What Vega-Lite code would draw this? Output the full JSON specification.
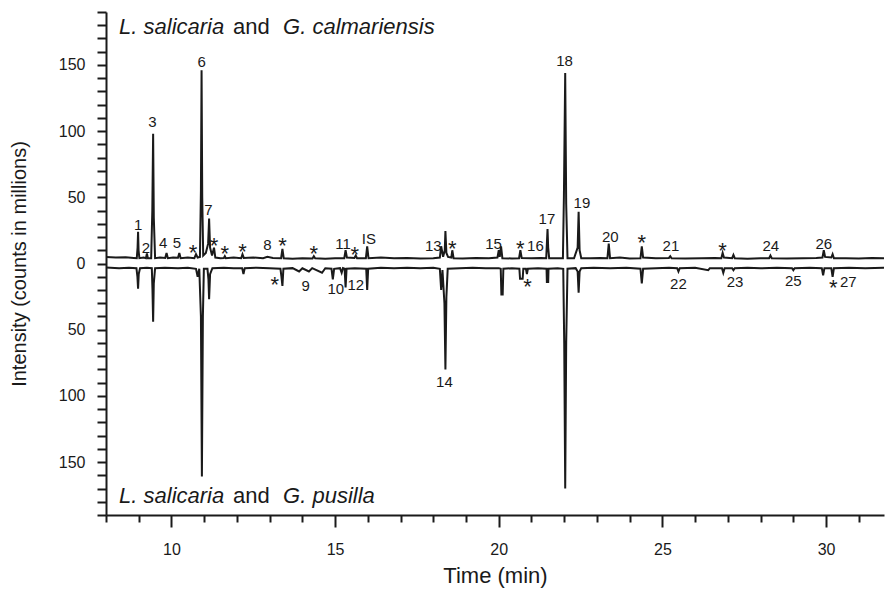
{
  "$schema": "https://vega.github.io/schema/vega-lite/v6.json",
  "width": 778,
  "height": 503,
  "autosize": {"type": "none"},
  "padding": {"left": 106, "top": 12, "right": 1, "bottom": 78},
  "config": {"view": {"stroke": null}, "font": "Liberation Sans"},
  "datasets": {
    "top": [
      {"t":8.0,"v":5},{"t":8.3,"v":4.5},{"t":8.6,"v":4.8},{"t":8.85,"v":4.2},{"t":8.94,"v":4},{"t":8.965,"v":12},{"t":8.98,"v":24},{"t":8.995,"v":10},{"t":9.02,"v":4},
      {"t":9.15,"v":4.5},{"t":9.22,"v":4},{"t":9.25,"v":7.5},{"t":9.28,"v":4},{"t":9.38,"v":4},{"t":9.415,"v":40},{"t":9.44,"v":98},{"t":9.46,"v":35},{"t":9.5,"v":4},
      {"t":9.65,"v":4.5},{"t":9.81,"v":4.2},{"t":9.85,"v":8},{"t":9.89,"v":4},{"t":10.05,"v":4.5},{"t":10.2,"v":4.3},{"t":10.24,"v":8},{"t":10.28,"v":4},
      {"t":10.5,"v":4.5},{"t":10.7,"v":4},{"t":10.75,"v":7},{"t":10.8,"v":4.5},{"t":10.87,"v":5},{"t":10.9,"v":55},{"t":10.92,"v":146},{"t":10.94,"v":50},{"t":10.97,"v":6},
      {"t":11.05,"v":8},{"t":11.12,"v":15},{"t":11.15,"v":34},{"t":11.18,"v":12},{"t":11.24,"v":6},{"t":11.3,"v":12},{"t":11.34,"v":4.5},{"t":11.5,"v":4},
      {"t":11.6,"v":4.2},{"t":11.63,"v":5.5},{"t":11.66,"v":4},{"t":11.9,"v":4.5},{"t":12.13,"v":4},{"t":12.17,"v":7},{"t":12.21,"v":4.2},{"t":12.5,"v":4.5},
      {"t":12.8,"v":4},{"t":12.93,"v":5},{"t":13.1,"v":4.2},{"t":13.35,"v":4},{"t":13.39,"v":11},{"t":13.43,"v":4},{"t":13.7,"v":3.5},{"t":14.0,"v":4},
      {"t":14.31,"v":3.8},{"t":14.35,"v":5.5},{"t":14.39,"v":4},{"t":14.7,"v":3.6},{"t":15.0,"v":4},{"t":15.28,"v":4},{"t":15.32,"v":10},{"t":15.36,"v":4.5},
      {"t":15.59,"v":4.2},{"t":15.63,"v":6},{"t":15.67,"v":4},{"t":15.94,"v":4},{"t":15.98,"v":13},{"t":16.02,"v":4},{"t":16.4,"v":4.5},{"t":16.8,"v":4},
      {"t":17.2,"v":4.2},{"t":17.6,"v":3.8},{"t":18.0,"v":4},{"t":18.2,"v":4.5},{"t":18.24,"v":13},{"t":18.3,"v":5},{"t":18.35,"v":10},{"t":18.37,"v":24.5},
      {"t":18.4,"v":8},{"t":18.45,"v":5},{"t":18.55,"v":4.5},{"t":18.58,"v":10},{"t":18.62,"v":4},{"t":18.9,"v":3.8},{"t":19.3,"v":4.2},{"t":19.7,"v":4},
      {"t":19.96,"v":4.5},{"t":20.0,"v":10},{"t":20.03,"v":5},{"t":20.07,"v":13},{"t":20.11,"v":4},{"t":20.4,"v":3.8},{"t":20.62,"v":4},{"t":20.66,"v":10},
      {"t":20.7,"v":4.2},{"t":21.0,"v":4},{"t":21.3,"v":4.2},{"t":21.45,"v":4},{"t":21.47,"v":15},{"t":21.49,"v":26},{"t":21.51,"v":12},{"t":21.54,"v":4},
      {"t":21.8,"v":4},{"t":21.96,"v":4},{"t":21.99,"v":50},{"t":22.03,"v":144},{"t":22.06,"v":45},{"t":22.1,"v":4},{"t":22.3,"v":4},{"t":22.41,"v":12},
      {"t":22.44,"v":39},{"t":22.47,"v":10},{"t":22.52,"v":4},{"t":22.8,"v":4},{"t":23.1,"v":4.2},{"t":23.32,"v":4},{"t":23.36,"v":15},{"t":23.4,"v":4},
      {"t":23.7,"v":4.5},{"t":24.0,"v":3.8},{"t":24.33,"v":4},{"t":24.37,"v":13},{"t":24.41,"v":4.5},{"t":24.8,"v":4},{"t":25.2,"v":4.2},{"t":25.24,"v":5.5},
      {"t":25.28,"v":4},{"t":25.7,"v":3.8},{"t":26.2,"v":4},{"t":26.6,"v":4.2},{"t":26.8,"v":4},{"t":26.84,"v":8},{"t":26.88,"v":4.5},{"t":27.13,"v":4},
      {"t":27.17,"v":6.5},{"t":27.21,"v":4},{"t":27.6,"v":3.6},{"t":28.0,"v":4},{"t":28.26,"v":4},{"t":28.3,"v":6},{"t":28.34,"v":4},{"t":28.8,"v":3.8},
      {"t":29.3,"v":4},{"t":29.7,"v":4.2},{"t":29.89,"v":4.5},{"t":29.93,"v":10},{"t":29.97,"v":5},{"t":30.16,"v":4.5},{"t":30.2,"v":7},{"t":30.24,"v":4},
      {"t":30.6,"v":4},{"t":31.0,"v":3.8},{"t":31.4,"v":4.2},{"t":31.77,"v":4}
    ],
    "bottom": [
      {"t":8.0,"v":-3},{"t":8.4,"v":-3.5},{"t":8.7,"v":-3.2},{"t":8.93,"v":-3.5},{"t":8.96,"v":-10},{"t":8.98,"v":-19},{"t":9.0,"v":-8},{"t":9.04,"v":-3.5},
      {"t":9.25,"v":-3.2},{"t":9.4,"v":-3.5},{"t":9.42,"v":-20},{"t":9.44,"v":-44},{"t":9.46,"v":-15},{"t":9.5,"v":-3.5},{"t":9.8,"v":-3.2},{"t":10.2,"v":-3.6},
      {"t":10.5,"v":-3.3},{"t":10.75,"v":-4},{"t":10.8,"v":-10},{"t":10.85,"v":-4},{"t":10.9,"v":-40},{"t":10.93,"v":-161},{"t":10.96,"v":-40},{"t":10.99,"v":-4},
      {"t":11.1,"v":-4},{"t":11.13,"v":-12},{"t":11.15,"v":-27},{"t":11.18,"v":-8},{"t":11.25,"v":-3.5},{"t":11.6,"v":-3.2},{"t":11.9,"v":-3.5},{"t":12.16,"v":-3.5},
      {"t":12.2,"v":-8},{"t":12.24,"v":-3.5},{"t":12.6,"v":-3.2},{"t":13.0,"v":-3.5},{"t":13.33,"v":-4},{"t":13.36,"v":-10},{"t":13.39,"v":-17},{"t":13.42,"v":-4},
      {"t":13.7,"v":-3.5},{"t":13.9,"v":-6},{"t":14.0,"v":-3.6},{"t":14.2,"v":-6},{"t":14.3,"v":-3.5},{"t":14.6,"v":-7},{"t":14.7,"v":-3.6},{"t":14.89,"v":-4},
      {"t":14.93,"v":-12},{"t":14.97,"v":-4},{"t":15.15,"v":-3.5},{"t":15.2,"v":-7},{"t":15.24,"v":-3.5},{"t":15.29,"v":-4},{"t":15.32,"v":-18},{"t":15.35,"v":-4},
      {"t":15.6,"v":-3.5},{"t":15.95,"v":-4},{"t":15.98,"v":-20},{"t":16.01,"v":-4},{"t":16.4,"v":-3.3},{"t":16.8,"v":-3.6},{"t":17.2,"v":-3.3},{"t":17.6,"v":-3.5},
      {"t":18.0,"v":-3.2},{"t":18.2,"v":-4},{"t":18.24,"v":-20},{"t":18.28,"v":-5},{"t":18.34,"v":-30},{"t":18.37,"v":-80},{"t":18.4,"v":-25},{"t":18.44,"v":-4},
      {"t":18.8,"v":-3.5},{"t":19.2,"v":-3.2},{"t":19.6,"v":-3.6},{"t":20.0,"v":-3.5},{"t":20.06,"v":-4},{"t":20.08,"v":-23.5},{"t":20.12,"v":-23.5},{"t":20.14,"v":-4},
      {"t":20.4,"v":-3.5},{"t":20.63,"v":-4},{"t":20.65,"v":-11.6},{"t":20.73,"v":-11.6},{"t":20.75,"v":-4},{"t":20.83,"v":-4},{"t":20.86,"v":-8},{"t":20.89,"v":-4},
      {"t":21.2,"v":-3.5},{"t":21.46,"v":-4},{"t":21.47,"v":-14},{"t":21.51,"v":-14},{"t":21.52,"v":-4},{"t":21.8,"v":-3.5},{"t":21.97,"v":-4},{"t":22.0,"v":-60},
      {"t":22.03,"v":-170},{"t":22.06,"v":-60},{"t":22.1,"v":-4},{"t":22.35,"v":-3.5},{"t":22.41,"v":-6},{"t":22.44,"v":-22},{"t":22.47,"v":-6},{"t":22.52,"v":-3.5},
      {"t":22.9,"v":-3.2},{"t":23.4,"v":-3.6},{"t":23.9,"v":-3.3},{"t":24.33,"v":-4},{"t":24.37,"v":-15},{"t":24.41,"v":-4},{"t":24.8,"v":-3.5},{"t":25.2,"v":-3.2},
      {"t":25.45,"v":-3.5},{"t":25.49,"v":-6},{"t":25.53,"v":-3.5},{"t":26.0,"v":-3.3},{"t":26.4,"v":-5},{"t":26.45,"v":-3.5},{"t":26.82,"v":-3.5},{"t":26.86,"v":-7},
      {"t":26.9,"v":-3.5},{"t":27.13,"v":-3.5},{"t":27.17,"v":-5},{"t":27.21,"v":-3.5},{"t":27.6,"v":-3.2},{"t":28.0,"v":-3.6},{"t":28.5,"v":-3.3},{"t":28.96,"v":-3.5},
      {"t":29.0,"v":-5},{"t":29.04,"v":-3.5},{"t":29.5,"v":-3.3},{"t":29.87,"v":-3.5},{"t":29.91,"v":-9},{"t":29.95,"v":-3.5},{"t":30.16,"v":-3.5},{"t":30.2,"v":-10},
      {"t":30.24,"v":-3.5},{"t":30.7,"v":-3.3},{"t":31.2,"v":-3.6},{"t":31.77,"v":-3.3}
    ],
    "labels": [
      {"t":8.98,"v":25.2,"label":"1"},{"t":9.22,"v":8.1,"label":"2"},{"t":9.42,"v":103.3,"label":"3"},{"t":9.75,"v":11.9,"label":"4"},
      {"t":10.17,"v":11.9,"label":"5"},{"t":10.92,"v":148.2,"label":"6"},{"t":11.13,"v":36.4,"label":"7"},{"t":12.93,"v":10.1,"label":"8"},
      {"t":15.24,"v":10.6,"label":"11"},{"t":16.03,"v":14.4,"label":"IS"},{"t":18.0,"v":9.3,"label":"13"},{"t":19.84,"v":10.6,"label":"15"},
      {"t":21.12,"v":9.3,"label":"16"},{"t":21.47,"v":29.5,"label":"17"},{"t":22.01,"v":149,"label":"18"},{"t":22.54,"v":42,"label":"19"},
      {"t":23.41,"v":16.2,"label":"20"},{"t":25.26,"v":9.3,"label":"21"},{"t":28.31,"v":9.3,"label":"24"},{"t":29.93,"v":11.1,"label":"26"},
      {"t":14.1,"v":-21,"label":"9"},{"t":15.02,"v":-22.7,"label":"10"},{"t":15.63,"v":-20.2,"label":"12"},{"t":18.34,"v":-93.4,"label":"14"},
      {"t":25.49,"v":-19.2,"label":"22"},{"t":27.22,"v":-17.7,"label":"23"},{"t":29.0,"v":-16.7,"label":"25"},{"t":30.68,"v":-17.7,"label":"27"}
    ],
    "stars": [
      {"t":10.66,"v":3.0},{"t":11.3,"v":8.3},{"t":11.63,"v":1.7},{"t":12.17,"v":3.6},{"t":13.39,"v":7.6},{"t":14.35,"v":2.0},
      {"t":15.6,"v":1.5},{"t":18.58,"v":5.3},{"t":20.66,"v":5.3},{"t":24.37,"v":10.2},{"t":26.84,"v":3.9},
      {"t":13.16,"v":-21.2},{"t":20.88,"v":-23},{"t":30.22,"v":-23.9}
    ],
    "italic": [
      {"t":8.4,"v":173.5,"label":"L. salicaria"},{"t":13.41,"v":173.5,"label":"G. calmariensis"},
      {"t":8.4,"v":-181,"label":"L. salicaria"},{"t":13.41,"v":-181,"label":"G. pusilla"}
    ],
    "plain": [
      {"t":11.88,"v":173.5,"label":"and"},{"t":11.88,"v":-181,"label":"and"}
    ]
  },
  "layer": [
    {
      "data": {"name": "top"},
      "mark": {"type": "line", "color": "#1a1a1a", "strokeWidth": 2, "clip": true},
      "encoding": {
        "x": {
          "field": "t", "type": "quantitative",
          "scale": {"domain": [8, 31.77], "nice": false, "zero": false},
          "axis": {
            "values": [8,9,10,11,12,13,14,15,16,17,18,19,20,21,22,23,24,25,26,27,28,29,30,31],
            "tickCount": 200,
            "labelExpr": "datum.value % 5 === 0 ? '' + datum.value : ''",
            "labelOverlap": false,
            "tickSize": {"condition": {"test": "datum.value % 5 === 0", "value": 12}, "value": 7},
            "tickWidth": 2, "tickColor": "#1a1a1a",
            "domainWidth": 2, "domainColor": "#1a1a1a",
            "grid": false,
            "labelFontSize": 16, "labelColor": "#1a1a1a", "labelPadding": 14,
            "title": "Time (min)", "titleFontSize": 22, "titleFontWeight": "normal",
            "titleColor": "#1a1a1a", "titlePadding": 8
          }
        },
        "y": {
          "field": "v", "type": "quantitative",
          "scale": {"domain": [-190, 190], "nice": false, "zero": false},
          "axis": {
            "values": [-190,-180,-170,-160,-150,-140,-130,-120,-110,-100,-90,-80,-70,-60,-50,-40,-30,-20,-10,0,10,20,30,40,50,60,70,80,90,100,110,120,130,140,150,160,170,180,190],
            "tickCount": 200,
            "labelExpr": "datum.value % 50 === 0 ? '' + abs(datum.value) : ''",
            "labelOverlap": false,
            "tickSize": 9, "tickWidth": 2, "tickColor": "#1a1a1a",
            "domainWidth": 2, "domainColor": "#1a1a1a",
            "grid": false,
            "labelFontSize": 16, "labelColor": "#1a1a1a", "labelPadding": 12,
            "title": "Intensity (counts in millions)", "titleFontSize": 20, "titleFontWeight": "normal",
            "titleColor": "#1a1a1a", "titlePadding": 29
          }
        }
      }
    },
    {
      "data": {"name": "bottom"},
      "mark": {"type": "line", "color": "#1a1a1a", "strokeWidth": 2, "clip": true},
      "encoding": {
        "x": {"field": "t", "type": "quantitative"},
        "y": {"field": "v", "type": "quantitative"}
      }
    },
    {
      "data": {"name": "labels"},
      "mark": {"type": "text", "fontSize": 15, "color": "#1a1a1a", "align": "center", "baseline": "alphabetic"},
      "encoding": {
        "x": {"field": "t", "type": "quantitative"},
        "y": {"field": "v", "type": "quantitative"},
        "text": {"field": "label"}
      }
    },
    {
      "data": {"name": "stars"},
      "mark": {"type": "text", "fontSize": 22, "color": "#1a1a1a", "align": "center", "baseline": "alphabetic", "text": "*"},
      "encoding": {
        "x": {"field": "t", "type": "quantitative"},
        "y": {"field": "v", "type": "quantitative"}
      }
    },
    {
      "data": {"name": "italic"},
      "mark": {"type": "text", "fontSize": 22, "fontStyle": "italic", "color": "#1a1a1a", "align": "left", "baseline": "alphabetic"},
      "encoding": {
        "x": {"field": "t", "type": "quantitative"},
        "y": {"field": "v", "type": "quantitative"},
        "text": {"field": "label"}
      }
    },
    {
      "data": {"name": "plain"},
      "mark": {"type": "text", "fontSize": 22, "color": "#1a1a1a", "align": "left", "baseline": "alphabetic"},
      "encoding": {
        "x": {"field": "t", "type": "quantitative"},
        "y": {"field": "v", "type": "quantitative"},
        "text": {"field": "label"}
      }
    }
  ]
}
